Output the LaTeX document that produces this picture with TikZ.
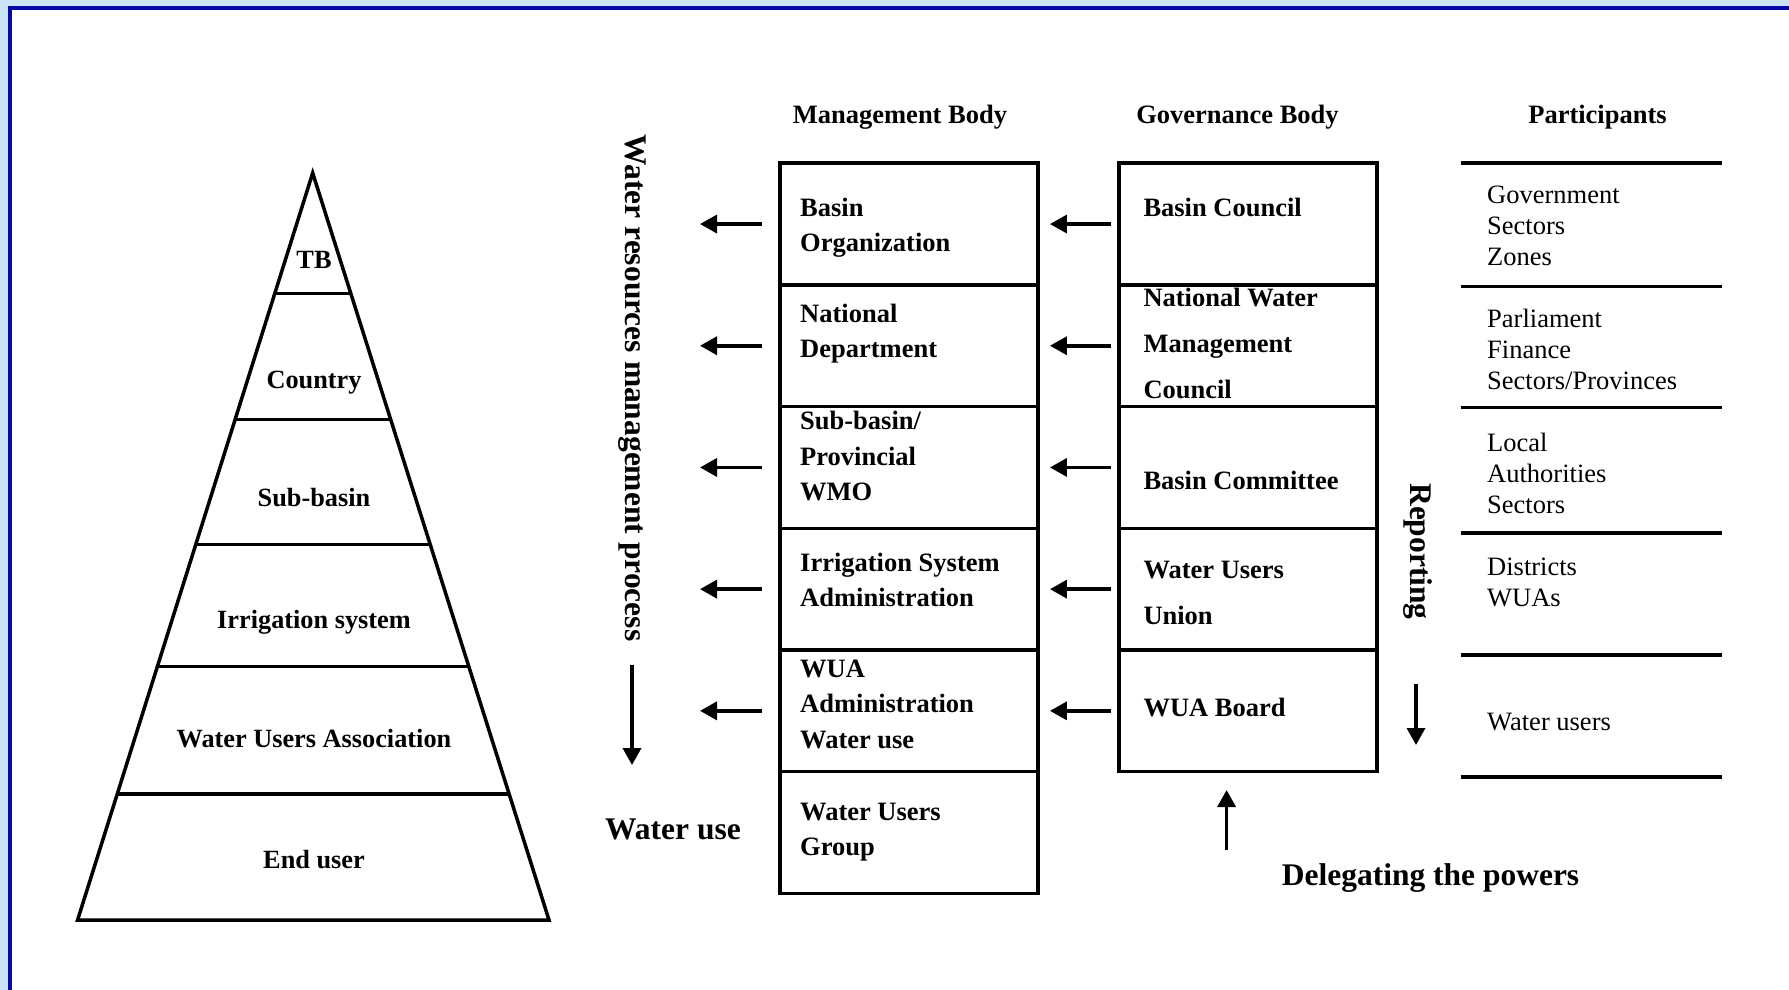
\documentclass[tikz,border=0pt]{standalone}
\usepackage{fontspec}
\setmainfont{Liberation Serif}
\usetikzlibrary{arrows.meta,calc}
\definecolor{slideblue}{RGB}{202,228,246}
\definecolor{frameblue}{RGB}{8,8,165}
\begin{document}
\begin{tikzpicture}[x=1pt,y=-1pt,
  rule/.style={line width=3.5pt},
  arr/.style={line width=3.5pt,-{Triangle[length=17pt,width=18pt]}},
  cell/.style={draw,line width=3.5pt,minimum width=258pt,minimum height=121.7pt,inner sep=0pt},
  head/.style={font=\bfseries\fontsize{26.5}{32}\selectfont,anchor=base,inner sep=0pt},
  % multi-line texts are anchored at the baseline of their last line
  mbtext/.style={font=\bfseries\fontsize{26.5}{35.5}\selectfont,align=left,anchor=base west,inner sep=0pt},
  gbtext/.style={font=\bfseries\fontsize{26.5}{46}\selectfont,align=left,anchor=base west,inner sep=0pt},
  parttext/.style={font=\fontsize{26.5}{31}\selectfont,align=left,anchor=base west,inner sep=0pt},
  pyrtext/.style={font=\bfseries\fontsize{26.3}{30}\selectfont,anchor=base,inner sep=0pt},
  bigtext/.style={font=\bfseries\fontsize{31.5}{36}\selectfont,inner sep=0pt},
]
\useasboundingbox (0,0) rectangle (1789,990);

% slide background and frame
\fill[slideblue] (0,0) rectangle (1789,990);
\fill[white] (9.7,8) rectangle (1789,990);
\draw[frameblue,line width=4pt] (9.7,990) -- (9.7,8) -- (1789,8);

% pyramid of levels
\coordinate (apex) at (312.7,173);
\coordinate (bl) at (77.6,920);
\coordinate (br) at (549,920);
\draw[rule] (apex) -- (br) -- (bl) -- cycle;
\foreach \t in {0.1613,0.33,0.497,0.6604,0.8315}
  \draw[rule] ($(apex)!\t!(bl)$) -- ($(apex)!\t!(br)$);
\node[pyrtext] (lvTB) at (314,268.3) {TB};
\node[pyrtext] (lvCountry) at (314,388.3) {Country};
\node[pyrtext] (lvSub) at (314,506.7) {Sub-basin};
\node[pyrtext] (lvIrr) at (314,628) {Irrigation system};
\node[pyrtext] (lvWUA) at (314,747.5) {Water Users Association};
\node[pyrtext] (lvEnd) at (314,868.3) {End user};

% column headings
\node[head] (hmb) at (900,123) {Management Body};
\node[head] (hgb) at (1237.5,123) {Governance Body};
\node[head] (hpart) at (1597.5,123) {Participants};

% management body column
\node[cell] (mb1) at (909.2,224.05) {};
\node[cell] (mb2) at (909.2,345.75) {};
\node[cell] (mb3) at (909.2,467.45) {};
\node[cell] (mb4) at (909.2,589.15) {};
\node[cell] (mb5) at (909.2,710.85) {};
\node[cell] (mb6) at (909.2,832.55) {};
\node[mbtext] (mbt1) at (800,251.5) {Basin\\Organization};
\node[mbtext] (mbt2) at (800,357.5) {National\\Department};
\node[mbtext] (mbt3) at (800,500.5) {Sub-basin/\\Provincial\\WMO};
\node[mbtext] (mbt4) at (800,606.5) {Irrigation System\\Administration};
\node[mbtext] (mbt5) at (800,748) {WUA\\Administration\\Water use};
\node[mbtext] (mbt6) at (800,855.5) {Water Users\\Group};

% governance body column
\node[cell] (gb1) at (1248.2,224.05) {};
\node[cell] (gb2) at (1248.2,345.75) {};
\node[cell] (gb3) at (1248.2,467.45) {};
\node[cell] (gb4) at (1248.2,589.15) {};
\node[cell] (gb5) at (1248.2,710.85) {};
\node[gbtext] (gbt1) at (1143.3,216) {Basin Council};
\node[gbtext] (gbt2) at (1143.3,398) {National Water\\Management\\Council};
\node[gbtext] (gbt3) at (1143.3,489) {Basin Committee};
\node[gbtext] (gbt4) at (1143.3,624) {Water Users\\Union};
\node[gbtext] (gbt5) at (1143.3,716) {WUA Board};

% participants list
\foreach \y in {163.2,286.4,407.3,532.8,654.9,777}
  \draw[rule] (1460.5,\y) -- (1721.8,\y);
\node[parttext] (pt1) at (1487,265.5) {Government\\Sectors\\Zones};
\node[parttext] (pt2) at (1487,389) {Parliament\\Finance\\Sectors/Provinces};
\node[parttext] (pt3) at (1487,513.5) {Local\\Authorities\\Sectors};
\node[parttext] (pt4) at (1487,606) {Districts\\WUAs};
\node[parttext] (pt5) at (1487,730) {Water users};

% arrows leaving the management body
\foreach \i in {1,...,5} {
  \coordinate (out\i) at (700,0 |- mb\i.center);
  \draw[arr,shorten <=16.5pt] (mb\i) -- (out\i);
}
% arrows from governance body to management body
\foreach \i in {1,...,5}
  \draw[arr,shorten <=6.2pt,shorten >=10pt] (gb\i) -- (mb\i);

% process labels
\node[bigtext,rotate=-90,anchor=base] (wrp) at (625,388) {Water resources management process};
\coordinate (wrs) at (632,665);
\coordinate (wre) at (632,765);
\draw[arr] (wrs) -- (wre);
\node[bigtext,anchor=base west] (wuse) at (605,839.3) {Water use};

\node[bigtext,rotate=-90,anchor=base] (rep) at (1410,551.5) {Reporting};
\coordinate (reps) at (1416,683.5);
\coordinate (repe) at (1416,745);
\draw[arr] (reps) -- (repe);

\coordinate (dels) at (1226.6,850);
\coordinate (dele) at (1226.6,790);
\draw[arr] (dels) -- (dele);
\node[bigtext,anchor=base] (deleg) at (1430.5,885) {Delegating the powers};
\end{tikzpicture}
\end{document}
